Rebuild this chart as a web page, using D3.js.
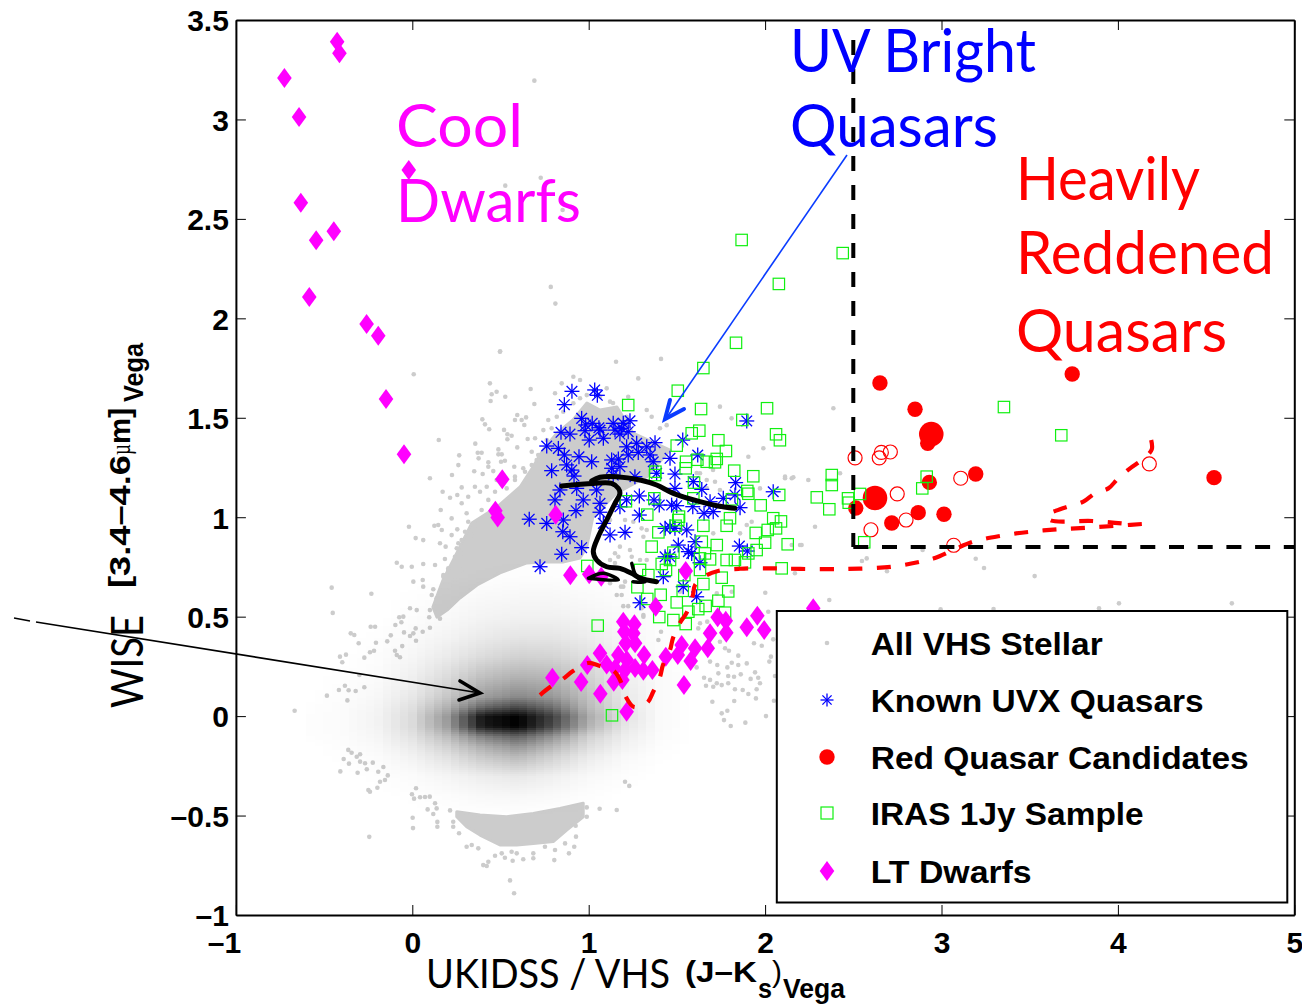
<!DOCTYPE html>
<html><head><meta charset="utf-8">
<script src="https://cdn.jsdelivr.net/npm/d3@7"></script>
<style>html,body{margin:0;padding:0;background:#fff}svg{display:block}</style></head>
<body><svg id="c" width="1302" height="1005"></svg>
<script>
// ---------- DATA (all in plot units: J-Ks, W1-W2) ----------
const xTicks=[-1,0,1,2,3,4,5];
const yTicks=[-1,-0.5,0,0.5,1,1.5,2,2.5,3,3.5];
const legendLabels=["All VHS Stellar","Known UVX Quasars","Red Quasar Candidates","IRAS 1Jy Sample","LT Dwarfs"];

const vhsPoints=[[-.457,.646],[-.232,.615],[-.451,.519],[-.349,.416],[-.329,.408],[-.304,.366],[-.236,.449],[-.211,.449],[-.41,.299],[-.376,.309],[-.397,.271],[-.272,.294],[-.24,.321],[-.217,.329],[-.206,.369],[-.142,.376],[-.122,.406],[-.096,.458],[-.062,.472],[-.074,.497],[-.051,.5],[-.047,.421],[-.013,.542],[.025,.533],[.019,.441],[.059,.424],[.1,.444],[.006,.416],[-.013,.403],[.021,.379],[-.057,.352],[-.098,.329],[-.088,.307],[-.07,.296],[-.3,.207],[-.484,.103],[-.416,.131],[-.382,.153],[-.361,.13],[-.321,.126],[-.272,.145],[-.368,.079],[-.667,.027],[.006,.676],[.059,.684],[.062,.651],[.11,.609],[.119,.638],[.157,.617],[.1,.533],[.096,.497],[.157,.49],[.176,.701],[-.003,.751],[.062,.765],[.129,.76],[-.06,.751],[-.088,.771],[.204,.735],[.214,.659],
[-.363,-.17],[-.344,-.184],[-.296,-.192],[-.389,-.216],[-.359,-.239],[-.315,-.204],[-.296,-.229],[-.268,-.237],[-.224,-.234],[-.258,-.267],[-.31,-.285],[-.408,-.278],[-.164,-.256],[-.193,-.28],[-.139,-.298],[-.183,-.33],[-.155,-.321],[-.198,-.36],[-.249,-.372],[-.24,-.38],[.021,-.363],[-.002,-.393],[.01,-.415],[.044,-.408],[.072,-.407],[.099,-.405],[.129,-.438],[.138,-.464],[.087,-.469],[.119,-.492],[.002,-.511],[.004,-.563],[-.244,-.607],[.142,-.532],[.142,-.556],[.214,-.474],[.232,-.531],[.232,-.556],[.265,-.589],[1.206,-.33],[1.23,-.351],[1.062,-.466],[1.159,-.472],[.989,-.459],[.989,-.506],[.926,-.551],[.928,-.606],[.866,-.64],[.918,-.657],[.888,-.69],[.809,-.673],[.752,-.657],[.805,-.724],[.686,-.69],[.686,-.715],[.629,-.72],[.592,-.69],[.563,-.682],[.569,-.727],[.525,-.712],[.507,-.69],[.469,-.702],[.431,-.732],[.402,-.749],[.422,-.754],[.374,-.665],[.337,-.648],[.308,-.657],[.554,-.826],[.577,-.891],
[.497,1.832],[.008,1.719],[1.155,1.782],[.44,1.673],[.478,1.631],[.45,1.618],[.444,1.584],[.527,1.606],[.671,1.645],[.692,1.569],[.397,1.492],[.412,1.467],[.436,1.442],[.595,1.514],[.582,1.489],[.645,1.502],[.62,1.489],[.635,1.464],[.52,1.439],[.539,1.417],[.563,1.41],[.539,1.392],[.654,1.393],[.696,1.397],[.15,1.388],[.357,1.37],[.595,1.351],[.488,1.341],[.371,1.324],[.393,1.324],[.488,1.316],[.507,1.316],[.266,1.311],[.376,1.296],[.261,1.262],[.431,1.276],[.431,1.254],[.503,1.279],[.525,1.284],[.578,1.254],[.351,1.231],[.399,1.217],[.225,1.212],[.1,1.196],[.459,1.232],[.28,1.15],[.172,1.128],[.214,1.098],[.161,1.036],[.255,1.112],[.223,.994],[.125,.957],[.147,.961],[.167,.936],[-.019,.952],[.019,.895],[.062,.885],[.223,.91],[.255,.939],[.157,.869],[.189,.852],[.252,.844],[.28,.885],[.185,.79],[.204,.743],[.176,.709],[.138,.592],
[.308,1.02],[.28,1.07],[.317,1.103],[.355,1.153],[.384,1.128],[.422,1.153],[.478,1.187],[.582,1.204],[.629,1.246],[.677,1.262],[.714,1.313],[.743,1.438],[.771,1.489],[.819,1.505],[.809,1.623],[.847,1.673],[.913,1.706],[.951,1.69],[.951,1.598],[1.102,1.648],[1.121,1.581],[1.224,1.606],[1.281,1.698],
[.214,.643],[.242,.684],[.28,.735],[.242,.801],[.289,.818],[.261,.869],[.299,.927],[.337,.91],[.365,.961],[.317,.977],[.393,1.036],[.431,1.087],[.469,1.128],[.535,1.145],[.582,1.187],[.639,1.229],[.705,1.288],[.677,1.329],[.762,1.388],[.79,1.447],[.856,1.53],[.913,1.573],[.989,1.614],[1.064,1.606],[1.138,1.574],[1.215,1.505],
[2.001,.62],[2.364,.584],[2.018,.525],[2.046,.386],[1.937,.366],[1.981,.354],[1.773,.341],[1.795,.329],[1.848,.304],[2.033,.299],[2.024,.274],[1.896,.265],[1.848,.257],[1.811,.268],[1.786,.245],[1.729,.257],[1.688,.274],[1.612,.245],[1.735,.215],[1.791,.202],[1.824,.198],[1.862,.21],[1.943,.22],[1.654,.193],[1.688,.182],[1.726,.165],[1.754,.156],[1.791,.165],[1.665,.153],[1.706,.148],[1.829,.135],[1.873,.131],[1.905,.111],[1.918,.187],[1.961,.193],[1.971,.165],[1.952,.135],[1.948,.089],[1.825,.076],[1.701,.072],[2.05,.077],[1.786,.027],[1.754,.014],[1.767,-.02],[1.805,-.05],[1.888,-.033],[2.005,0],[2.056,.202],[1.41,.424],[1.395,.383],[1.631,.467],[1.621,.441],[1.672,.475],[1.744,.374],[1.31,.508],[1.3,.542],[1.196,.553],[1.224,.553],[1.159,.609],[1.183,.651],[1.206,.676],[1.716,1.178],[1.81,1.045],[1.924,.977],[1.971,1.145],[2.151,1.196],[2.113,1.204],[2.245,1.187],[2.207,.86],[2.151,.86],[2.169,.718],[1.858,.919],[1.896,.961],[1.706,.919],[1.31,.902],[1.177,.852],[1.149,.819],[1.168,.801],[1.234,.835],[1.291,.785],[1.121,.668],[1.196,.651],[1.187,.609],[1.31,.5],[1.726,.617],[1.518,.625],[1.811,.625],[1.669,1.187],[1.631,1.221],[1.3,.944],[1.253,.977],[1.3,1.196],[1.206,.986],[1.121,.986],[1.744,1.556],[1.81,1.497],[2.387,1.548],[1.99,1.347],[1.905,1.304],[2.113,1.196],[2.16,1.201],[2.283,.952],[2.198,.86],[.692,3.195],[.728,2.707],[.527,2.667],[.852,2.545],[.785,2.158],[.811,2.074],[.498,1.834],[1.41,1.796],[2.549,.78],[2.576,.793],[2.691,.728],[2.893,.835],[3.194,.791],[3.241,.745],[3.528,.704],[2.425,1.221],[3.295,.538],[3.893,.542],[4.006,.567],[4.646,.567],[2.995,.537],
[1.329,1.539],[1.404,1.447],[1.357,1.505],[1.442,1.463],[1.669,1.147],[1.744,1.137],[1.612,1.222],[1.705,1.238],[1.215,.92],[1.329,.936],[1.149,.77],[1.121,.785],[1.244,.801],[1.329,.785]];

// outlines of the parts of the VHS cloud where the points merge into solid grey
const vhsDenseUpper=[[.14,.498],[.117,.548],[.174,.684],[.27,.85],[.338,.971],[.48,1.051],[.611,1.152],[.684,1.252],[.741,1.338],[.82,1.423],[.911,1.489],[.99,1.574],[1.064,1.539],[1.16,1.554],[1.251,1.423],[1.461,1.338],[1.329,1.204],[1.159,1.122],[1.024,1.003],[.989,.852],[.951,.795],[.854,.775],[.741,.775],[.65,.77],[.497,.72],[.367,.659],[.27,.594],[.197,.533]];
const vhsDenseLower=[[.252,-.481],[.384,-.497],[.535,-.506],[.686,-.489],[.837,-.464],[.969,-.438],[.969,-.506],[.875,-.573],[.799,-.631],[.686,-.64],[.592,-.648],[.497,-.648],[.384,-.598],[.308,-.556],[.252,-.506]];

// density image: darkness read at these grid positions
const densityX=[-.6,-.4,-.2,0,.2,.4,.6,.8,1,1.2,1.4,1.6];
const densityY=[.8,.7,.6,.5,.4,.3,.2,.1,.05,0,-.05,-.1,-.15,-.2,-.3,-.4,-.5];
const densityDark=[
[0,0,0,0,0,0,0,0,0,0,0,0],
[0,0,0,0,0,.005,.01,.01,.005,0,0,0],
[0,0,0,.005,.012,.025,.03,.03,.02,.01,0,0],
[0,0,0,.01,.025,.045,.055,.055,.04,.02,.005,0],
[0,0,.005,.02,.045,.08,.1,.1,.07,.035,.01,0],
[0,0,.01,.035,.08,.14,.18,.17,.12,.05,.015,0],
[0,.005,.015,.06,.14,.25,.3,.28,.18,.07,.02,0],
[0,.01,.03,.09,.22,.38,.46,.4,.24,.09,.02,0],
[.004,.012,.04,.12,.3,.58,.7,.55,.27,.1,.02,0],
[.005,.015,.045,.14,.4,.92,1,.74,.33,.12,.02,0],
[.005,.015,.045,.14,.38,.9,1,.7,.3,.1,.02,0],
[.005,.012,.035,.11,.26,.5,.62,.42,.18,.07,.015,0],
[0,.008,.025,.08,.18,.32,.42,.28,.13,.05,.01,0],
[0,.005,.015,.05,.12,.22,.28,.18,.08,.025,.005,0],
[0,0,.005,.015,.04,.07,.09,.06,.025,.008,0,0],
[0,0,0,.005,.012,.025,.03,.02,.008,0,0,0],
[0,0,0,0,0,0,0,0,0,0,0,0]];

const uvxQuasars=[[.905,1.633],[1.034,1.64],[1.049,1.613],[.862,1.566],[.96,1.497],[1.02,1.472],[.983,1.464],[1.058,1.45],[1.139,1.472],[1.196,1.472],[1.234,1.485],[.843,1.427],[.894,1.418],[.979,1.435],[1.064,1.438],[1.149,1.438],[1.187,1.447],[1.224,1.43],[1.003,1.388],[1.083,1.397],[1.177,1.418],[.762,1.358],[.828,1.346],[1.215,1.354],[1.272,1.372],[1.329,1.354],[1.376,1.375],[1.533,1.388],[.862,1.313],[.945,1.304],[1.017,1.279],[1.13,1.288],[1.168,1.293],[1.224,1.313],[1.281,1.326],[1.348,1.313],[1.366,1.279],[1.461,1.296],[1.618,1.313],[.875,1.263],[.904,1.237],[.79,1.234],[1.13,1.246],[1.177,1.254],[.917,1.207],[1.139,1.212],[1.262,1.204],[1.385,1.221],[1.489,1.217],[1.593,1.179],[1.833,1.174],[1.896,1.484],[.837,1.137],[.932,1.145],[1.045,1.137],[1.489,1.145],[1.641,1.14],[2.046,1.128],[1.829,1.112],[.809,1.087],[.969,1.087],[1.064,1.07],[1.287,1.107],[1.177,1.053],[1.215,1.087],[1.37,1.087],[1.4,1.061],[1.47,1.061],[1.499,1.058],[1.688,1.078],[1.763,1.095],[1.858,1.048],[1.59,1.053],[.928,1.033],[1.064,1.025],[1.654,1.02],[1.706,1.028],[1.287,1.011],[.663,.99],[.762,.969],[.856,.986],[1.083,.969],[1.433,.944],[1.461,.952],[1.489,.944],[1.556,.936],[.853,.927],[.894,.902],[1.121,.911],[1.206,.924],[.96,.847],[.847,.814],[.724,.751],[1.508,.86],[1.603,.877],[1.565,.827],[1.584,.818],[1.854,.855],[1.899,.83],[1.433,.801],[1.461,.801],[1.631,.771],[1.423,.701],[1.536,.651],[1.612,.6],[1.291,.57]];

const redCandidates=[[2.651,1.675],[2.85,1.543],[3.741,1.72],[2.922,1.372],[3.194,1.217],[2.931,1.175],[2.514,1.046],[2.718,.971],[2.868,1.023],[3.014,1.015],[4.545,1.199]];
const redCandidatesBright=[[2.942,1.418],[2.623,1.097]];
const redCandidatesOpen=[[2.51,1.298],[2.659,1.326],[2.647,1.298],[2.71,1.328],[2.749,1.117],[3.109,1.196],[2.799,.986],[2.6,.937],[3.069,.859],[4.178,1.268]];

const irasSample=[[1.65,1.75],[1.505,1.636],[1.224,1.564],[1.637,1.544],[2.011,1.548],[1.871,1.489],[2.062,1.417],[2.084,1.387],[1.584,1.422],[1.627,1.435],[1.735,1.387],[1.499,1.36],[1.778,1.333],[1.616,1.289],[1.552,1.279],[1.55,1.246],[1.669,1.279],[1.726,1.293],[1.716,1.276],[1.825,1.234],[1.933,1.206],[1.378,1.229],[1.376,1.212],[1.597,1.174],[1.899,1.132],[1.905,1.118],[1.812,1.09],[2.08,1.112],[1.975,1.06],[2.378,1.212],[2.378,1.162],[2.293,1.1],[2.364,1.04],[1.593,1.095],[1.372,1.095],[1.211,1.08],[1.332,1.013],[1.801,.995],[1.782,.957],[1.512,1.003],[1.508,.986],[1.493,.957],[1.65,.957],[1.395,.924],[2.046,.995],[2.09,.979],[2.015,.936],[2.062,.944],[1.947,.921],[2.0,.872],[2.128,.864],[1.357,.852],[1.641,.877],[1.726,.86],[1.952,.835],[1.905,.818],[1.48,.822],[1.461,.785],[1.414,.765],[1.659,.818],[1.688,.788],[1.631,.793],[1.631,.735],[1.782,.785],[1.829,.785],[1.886,.773],[2.094,.743],[.992,.755],[1.291,.735],[1.338,.709],[1.438,.735],[1.542,.709],[1.754,.696],[1.276,.648],[1.65,.664],[1.791,.627],[1.408,.61],[1.533,.63],[1.332,.589],[1.499,.572],[1.735,.58],[1.663,.554],[1.621,.538],[1.773,.52],[1.565,.525],[1.051,.455],[1.4,.498],[1.48,.483],[1.55,.463],[1.132,.004],[3.354,1.554],[3.679,1.412],[2.916,1.204],[2.891,1.145],[2.538,1.117],[2.47,1.095],[2.474,1.073],[2.562,.874],[1.867,2.394],[2.078,2.173],[1.835,1.877],[2.44,2.328]];

const ltDwarfs=[[-.426,3.391],[-.413,3.333],[-.725,3.208],[-.642,3.012],[-.02,2.746],[-.632,2.581],[-.445,2.438],[-.545,2.392],[-.584,2.107],[-.259,1.972],[-.193,1.913],[-.149,1.594],[-.047,1.316],[.51,1.191],[.471,1.033],[.484,.998],[.813,1.013],[.896,.708],[1.003,.713],[1.071,.701],[.794,.193],[1.064,.316],[.992,.257],[.957,.171],[1.066,.113],[1.142,.173],[1.196,.475],[1.259,.462],[1.202,.424],[1.253,.416],[1.21,.366],[1.263,.366],[1.168,.307],[1.314,.307],[1.216,.282],[1.102,.26],[1.149,.24],[1.206,.232],[1.263,.242],[1.31,.228],[1.361,.232],[1.191,.182],[1.437,.299],[1.527,.358],[1.505,.307],[1.603,.341],[1.578,.277],[1.675,.341],[1.688,.416],[1.731,.497],[1.777,.48],[1.78,.419],[1.896,.447],[1.956,.505],[1.995,.433],[1.54,.156],[1.215,.022],[1.38,.55],[2.273,.542],[1.55,.73]];

const redTrackMain=[[.724,.106],[.781,.146],[.854,.187],[.911,.227],[.996,.267],[1.064,.252],[1.143,.227],[1.183,.171],[1.211,.096],[1.257,.046],[1.33,.066],[1.365,.121],[1.404,.197],[1.421,.257],[1.461,.332],[1.478,.393],[1.517,.468],[1.557,.523],[1.591,.609],[1.603,.659],[1.669,.709],[1.733,.73],[1.858,.741],[2.028,.743],[2.198,.74],[2.47,.74],[2.718,.751],[2.878,.776],[2.963,.795],[3.065,.835],[3.179,.877],[3.341,.907],[3.502,.927],[3.66,.939],[3.823,.947],[3.993,.957],[4.182,.969]];
const redTrackUpper=[[4.021,.969],[3.855,.981],[3.615,.986],[3.598,1.011],[3.649,1.033],[3.725,1.056],[3.804,1.078],[3.87,1.12],[3.946,1.145],[4.002,1.196],[4.069,1.246],[4.135,1.288],[4.192,1.341],[4.186,1.397]];
const blackTracks=[
 [[.847,1.157],[1.026,1.17],[1.13,1.17],[1.168,1.145],[1.177,1.12],[1.149,1.07],[1.102,.986],[1.054,.902],[1.026,.827],[1.045,.785],[1.102,.751],[1.177,.743],[1.244,.718],[1.291,.694],[1.385,.676]],
 [[1.829,1.045],[1.726,1.058],[1.631,1.078],[1.48,1.12],[1.385,1.162],[1.291,1.187],[1.159,1.204],[1.064,1.201],[1.017,1.183]],
 [[.998,.693],[1.083,.718],[1.168,.684],[.998,.693]],
 [[1.244,.768],[1.272,.701],[1.319,.674],[1.251,.676]]];
const cutX=2.5, cutY=0.85, cutTop=3.4;

// ---------- DRAWING ----------
const svg=d3.select("#c");
const xS=d3.scaleLinear().domain([-1,5]).range([235.9,1294.3]);
const yS=d3.scaleLinear().domain([-1,3.5]).range([915,20]);
const fmt=d=>(d<0?"–":"")+Math.abs(d);
const BOLD="'Liberation Sans',Arial,sans-serif", GILL="Lato,'Open Sans',sans-serif";
const px=d=>xS(d[0]), py=d=>yS(d[1]);

// VHS cloud
const plot=svg.append("g");
const line=d3.line().x(px).y(py);
plot.selectAll("path.dense").data([vhsDenseUpper,vhsDenseLower]).join("path").attr("class","dense")
 .attr("d",d=>line(d)+"Z").attr("fill","#cccccc").attr("stroke","#cccccc").attr("stroke-width",3).attr("stroke-linejoin","round");
plot.selectAll("circle.vhs").data(vhsPoints).join("circle").attr("class","vhs").attr("cx",px).attr("cy",py).attr("r",2.3).attr("fill","#cccccc");

// density image
const iX=d3.scaleLinear().domain(densityX).range(d3.range(densityX.length)).clamp(true);
const iY=d3.scaleLinear().domain(densityY).range(d3.range(densityY.length)).clamp(true);
function dens(x,y){const a=iX(x),b=iY(y);const i=Math.min(Math.floor(a),densityX.length-2),j=Math.min(Math.floor(b),densityY.length-2);
 const u=a-i,v=b-j,m=densityDark;return (m[j][i]*(1-u)+m[j][i+1]*u)*(1-v)+(m[j+1][i]*(1-u)+m[j+1][i+1]*u)*v;}
const cw=(xS.invert(8.5)-xS.invert(0)), ch=yS.invert(0)-yS.invert(2);
const cells=[];
for(const cx of d3.range(-.6,1.6,cw)) for(const cy of d3.range(-.5,.8,ch)){const d=dens(cx+cw/2,cy+ch/2); if(d>0.003) cells.push([cx,cy,d]);}
plot.append("g").attr("shape-rendering","crispEdges").selectAll("rect").data(cells).join("rect")
 .attr("x",d=>xS(d[0])).attr("y",d=>yS(d[1]+ch)).attr("width",xS(cw)-xS(0)).attr("height",yS(0)-yS(ch))
 .attr("fill","#000").attr("fill-opacity",d=>d[2]);

// marker helpers
function star(sel,r){[0,45,90,135].forEach(a=>{const t=a*Math.PI/180;sel.append("line")
  .attr("x1",-r*Math.cos(t)).attr("y1",-r*Math.sin(t)).attr("x2",r*Math.cos(t)).attr("y2",r*Math.sin(t))
  .attr("stroke","#0000ff").attr("stroke-width",1.3);});}
const diamond="M0,-10L7.3,0L0,10L-7.3,0Z";

plot.append("g").selectAll("g").data(uvxQuasars).join("g").attr("transform",d=>`translate(${px(d)},${py(d)})`).each(function(){star(d3.select(this),7.5);});
plot.selectAll("circle.rs").data(redCandidates).join("circle").attr("class","rs").attr("cx",px).attr("cy",py).attr("r",7.7).attr("fill","#ff0000");
plot.selectAll("circle.rb").data(redCandidatesBright).join("circle").attr("class","rb").attr("cx",px).attr("cy",py).attr("r",12.3).attr("fill","#ff0000");
plot.selectAll("circle.ro").data(redCandidatesOpen).join("circle").attr("class","ro").attr("cx",px).attr("cy",py).attr("r",7).attr("fill","none").attr("stroke","#ff0000").attr("stroke-width",1.2);
plot.selectAll("rect.ir").data(irasSample).join("rect").attr("class","ir").attr("x",d=>px(d)-5.7).attr("y",d=>py(d)-5.7).attr("width",11.4).attr("height",11.4).attr("fill","none").attr("stroke","#10f010").attr("stroke-width",1.2);
plot.selectAll("path.lt").data(ltDwarfs).join("path").attr("class","lt").attr("transform",d=>`translate(${px(d)},${py(d)})`).attr("d",diamond).attr("fill","#ff00ff");

// model tracks
const smooth=d3.line().x(px).y(py).curve(d3.curveCatmullRom.alpha(.5));
plot.selectAll("path.rt").data([redTrackMain,redTrackUpper]).join("path").attr("class","rt").attr("d",smooth).attr("fill","none").attr("stroke","#ff0000").attr("stroke-width",4.2).attr("stroke-dasharray","14 14.5");
plot.selectAll("path.bt").data(blackTracks).join("path").attr("class","bt").attr("d",smooth).attr("fill","none").attr("stroke","#000").attr("stroke-width",(d,i)=>i<2?5:3.5).attr("stroke-linecap","round");

// selection cut
plot.append("path").attr("d",`M${xS(cutX)},${yS(cutTop)}L${xS(cutX)},${yS(cutY)}`).attr("stroke","#000").attr("stroke-width",4).attr("fill","none").attr("stroke-dasharray","15 14");
plot.append("path").attr("d",`M${xS(cutX)},${yS(cutY)}L${xS(5)},${yS(cutY)}`).attr("stroke","#000").attr("stroke-width",4).attr("fill","none").attr("stroke-dasharray","15 13.7");

// axes
function axis(g,gen,cls){const a=svg.append("g").attr("transform",g).call(gen);a.selectAll("path.domain").attr("stroke","#000").attr("stroke-width",2);a.selectAll(".tick line").attr("stroke","#000").attr("stroke-width",1);return a;}
const ax=axis("translate(0,915)",d3.axisBottom(xS).tickValues(xTicks).tickSize(-10).tickSizeOuter(0).tickFormat(fmt));
const ay=axis("translate(235.9,0)",d3.axisLeft(yS).tickValues(yTicks).tickSize(-10).tickSizeOuter(0).tickFormat(fmt));
axis("translate(0,20)",d3.axisTop(xS).tickValues(xTicks).tickSize(-10).tickSizeOuter(0).tickFormat(""));
axis("translate(1294.3,0)",d3.axisRight(yS).tickValues(yTicks).tickSize(-10).tickSizeOuter(0).tickFormat(""));
ax.selectAll("text").attr("font-family",BOLD).attr("font-weight","bold").attr("font-size",30).attr("fill","#000").attr("y",0).attr("dy",38)
  .attr("dx",d=>d<0?-12:0);
ay.selectAll("text").attr("font-family",BOLD).attr("font-weight","bold").attr("font-size",30).attr("fill","#000").attr("x",-7).attr("dy",".36em");

// arrows
function arrow(shaft,barbs,col,w1,w2){
 svg.append("path").attr("d",d3.line()(shaft)).attr("stroke",col).attr("stroke-width",w1).attr("fill","none");
 svg.append("path").attr("d",d3.line()(barbs)).attr("stroke",col).attr("stroke-width",w2).attr("fill","none").attr("stroke-linecap","round").attr("stroke-linejoin","miter");
}
arrow([[847,155],[665,420]],[[670,400],[665,419],[684,409]],"#0a3cff",1.6,4);
arrow([[36,622],[480,693]],[[460,681],[480,693],[459,700]],"#000",1.6,3.6);
svg.append("path").attr("d","M14,618L30,621").attr("stroke","#000").attr("stroke-width",1.6);

// annotation text
const notes=[["Cool",396,147,127,"#ff00ff"],["Dwarfs",396,222,185,"#ff00ff"],
 ["UV Bright",790,72,246,"#0000ff"],["Quasars",790,147,208,"#0000ff"],
 ["Heavily",1016,200,184,"#ff0000"],["Reddened",1016,274,258,"#ff0000"],["Quasars",1016,352,211,"#ff0000"]];
svg.selectAll("text.note").data(notes).join("text").attr("class","note").attr("x",d=>d[1]).attr("y",d=>d[2]).text(d=>d[0])
 .attr("font-family",GILL).attr("font-size",60).attr("fill",d=>d[4]).attr("textLength",d=>d[3]).attr("lengthAdjust","spacingAndGlyphs");

// axis titles
function t(s,x,y,size,w,fam,weight,rot){const e=svg.append("text").text(s).attr("font-family",fam).attr("font-size",size).attr("font-weight",weight).attr("fill","#000").attr("textLength",w).attr("lengthAdjust","spacingAndGlyphs");
 e.attr("transform",`translate(${x},${y})`+(rot?" rotate(-90)":""));}
t("UKIDSS / VHS",426,988,41,244,GILL,"normal");
t("(J–K",685,982,30,72,BOLD,"bold");
t("s",758,998,28,14,BOLD,"bold");
t(")",772,982,30,10,BOLD,"normal");
t("Vega",783,998,27,62,BOLD,"bold");
t("WISE",143,708,45,93,GILL,"normal",1);
t("[3.4–4.6",130,588,30,133,BOLD,"bold",1);
t("µ",130,455,28,11,"'Liberation Serif',serif","normal",1);
t("m]",130,444,30,36,BOLD,"bold",1);
t("Vega",143,402,27,59,BOLD,"bold",1);

// legend
const leg=svg.append("g");
leg.append("rect").attr("x",776.8).attr("y",611).attr("width",510.5).attr("height",291.5).attr("fill","#fff").attr("stroke","#000").attr("stroke-width",2);
const legY=[643,700,757,813,871], legW=[232,333,378,273,161];
leg.selectAll("text").data(legendLabels).join("text").text(d=>d).attr("x",870.7).attr("y",(d,i)=>legY[i]+11.5)
 .attr("font-family",BOLD).attr("font-weight","bold").attr("font-size",32).attr("fill","#000").attr("textLength",(d,i)=>legW[i]).attr("lengthAdjust","spacingAndGlyphs");
leg.append("circle").attr("cx",827).attr("cy",legY[0]).attr("r",2.3).attr("fill","#cccccc");
star(leg.append("g").attr("transform",`translate(827,${legY[1]})`),6.5);
leg.append("circle").attr("cx",827).attr("cy",legY[2]).attr("r",7.7).attr("fill","#ff0000");
leg.append("rect").attr("x",821).attr("y",legY[3]-6).attr("width",12).attr("height",12).attr("fill","none").attr("stroke","#10f010").attr("stroke-width",1.2);
leg.append("path").attr("transform",`translate(827,${legY[4]})`).attr("d",diamond).attr("fill","#ff00ff");
</script></body></html>
